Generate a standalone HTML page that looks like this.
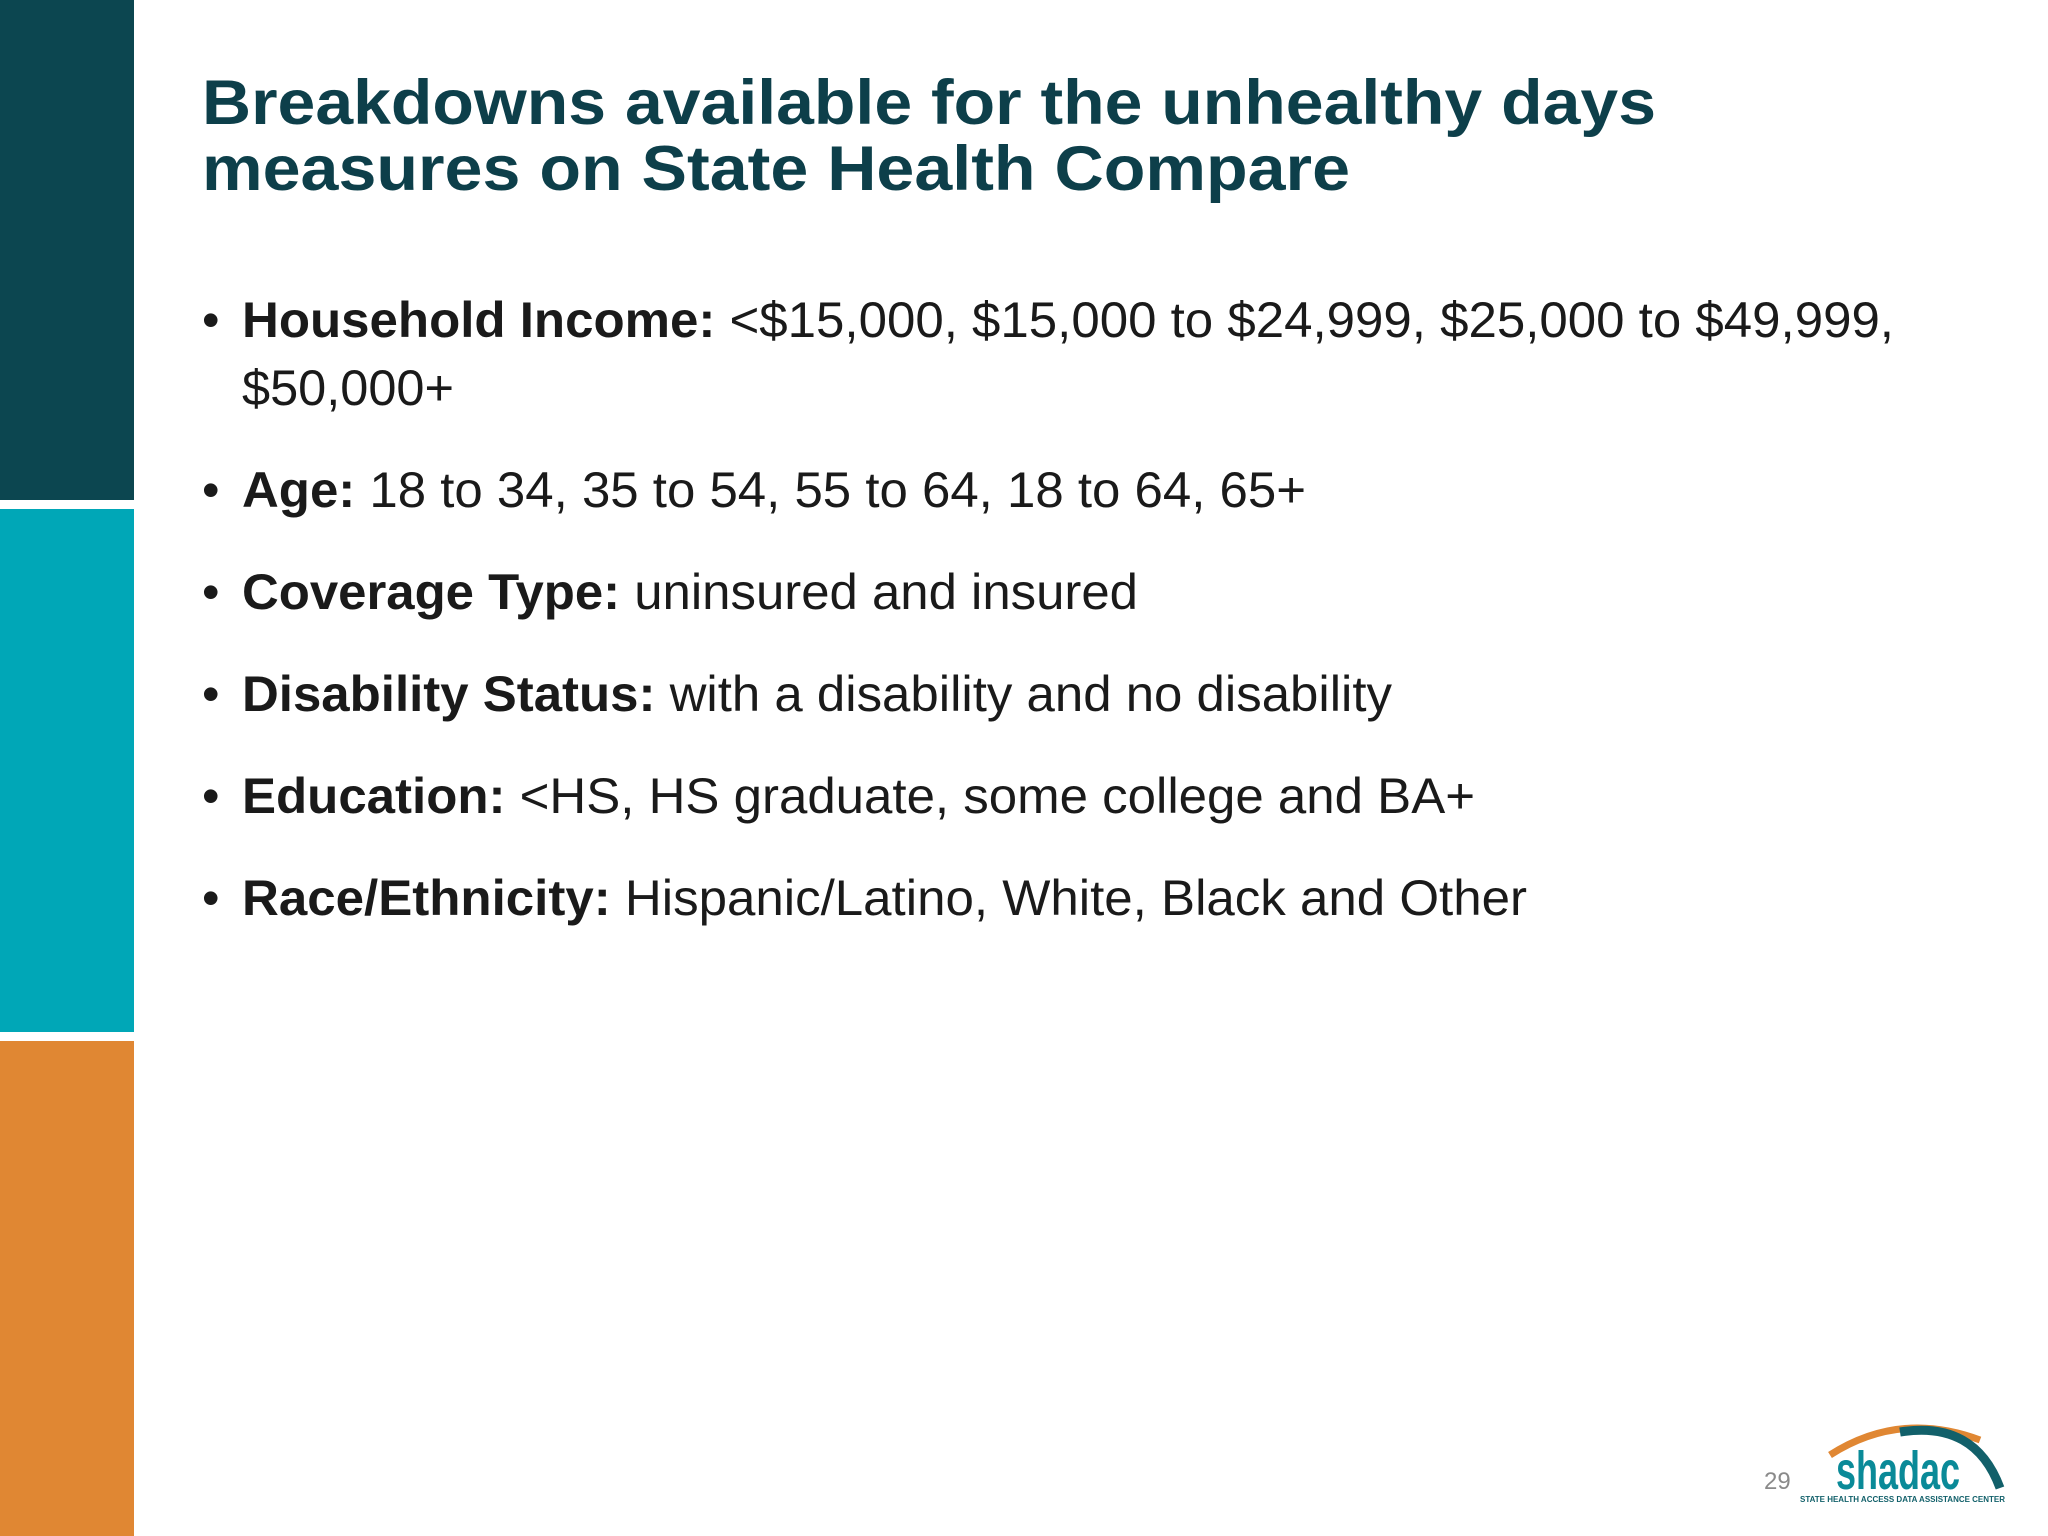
<!DOCTYPE html>
<html><head><meta charset="utf-8"><style>
html,body{margin:0;padding:0;background:#fff;}
svg{display:block;font-family:"Liberation Sans",Arial,sans-serif;}
</style></head><body>
<svg width="2048" height="1536" viewBox="0 0 2048 1536">
<rect x="0" y="0" width="134" height="500" fill="#0c4650"/>
<rect x="0" y="509" width="134" height="523" fill="#00a7b7"/>
<rect x="0" y="1041" width="134" height="495" fill="#e08733"/>
<g fill="#0d3f4a" font-weight="bold" font-size="63">
<text x="202" y="124" textLength="1454" lengthAdjust="spacingAndGlyphs">Breakdowns available for the unhealthy days</text>
<text x="202" y="190" textLength="1148" lengthAdjust="spacingAndGlyphs">measures on State Health Compare</text>
</g>
<g fill="#1a1a1a" font-size="50">
<text x="202" y="337">•</text>
<text x="242" y="337" textLength="1652" lengthAdjust="spacingAndGlyphs"><tspan font-weight="bold">Household Income:</tspan> &lt;$15,000, $15,000 to $24,999, $25,000 to $49,999,</text>
<text x="242" y="405" textLength="212" lengthAdjust="spacingAndGlyphs">$50,000+</text>
<text x="202" y="507">•</text>
<text x="242" y="507" textLength="1064" lengthAdjust="spacingAndGlyphs"><tspan font-weight="bold">Age:</tspan> 18 to 34, 35 to 54, 55 to 64, 18 to 64, 65+</text>
<text x="202" y="609">•</text>
<text x="242" y="609" textLength="896" lengthAdjust="spacingAndGlyphs"><tspan font-weight="bold">Coverage Type:</tspan> uninsured and insured</text>
<text x="202" y="711">•</text>
<text x="242" y="711" textLength="1150" lengthAdjust="spacingAndGlyphs"><tspan font-weight="bold">Disability Status:</tspan> with a disability and no disability</text>
<text x="202" y="813">•</text>
<text x="242" y="813" textLength="1233" lengthAdjust="spacingAndGlyphs"><tspan font-weight="bold">Education:</tspan> &lt;HS, HS graduate, some college and BA+</text>
<text x="202" y="915">•</text>
<text x="242" y="915" textLength="1285" lengthAdjust="spacingAndGlyphs"><tspan font-weight="bold">Race/Ethnicity:</tspan> Hispanic/Latino, White, Black and Other</text>
</g>
<text x="1764" y="1489" font-size="24" fill="#8a8a8a">29</text>
<g>
<path d="M1830 1455 Q1900 1410 1980 1440" stroke="#e08733" stroke-width="7" fill="none"/>
<path d="M1900 1432 Q1975 1420 2000 1488" stroke="#12606a" stroke-width="9" fill="none"/>
<text x="1836" y="1489" font-size="54" font-weight="bold" fill="#0a8a98" textLength="124" lengthAdjust="spacingAndGlyphs">shadac</text>
<text x="1800" y="1502" font-size="8" font-weight="bold" fill="#12606a" textLength="205" lengthAdjust="spacingAndGlyphs">STATE HEALTH ACCESS DATA ASSISTANCE CENTER</text>
</g>
</svg>
</body></html>
